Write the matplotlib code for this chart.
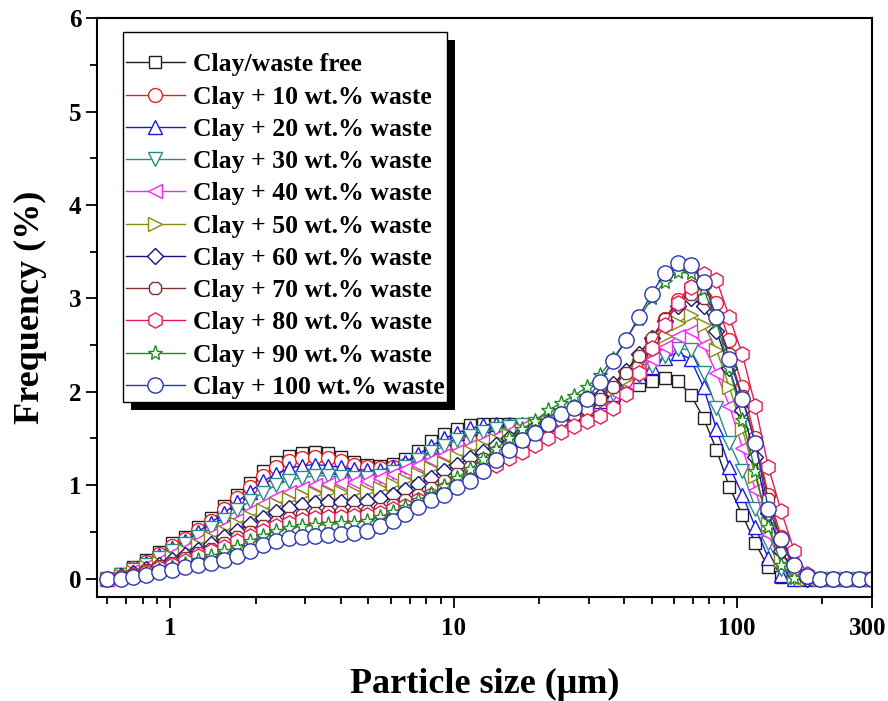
import matplotlib
matplotlib.use('Agg')
import matplotlib.pyplot as plt
from matplotlib.patches import Rectangle
from matplotlib.transforms import ScaledTranslation
from matplotlib.ticker import FixedLocator, LogLocator, NullFormatter

plt.rcParams['font.family'] = ['Liberation Serif', 'DejaVu Serif']
plt.rcParams['font.weight'] = 'bold'

# particle size bins (um)
sizes = [0.600, 0.667, 0.741, 0.823, 0.914, 1.016, 1.129, 1.254, 1.393, 1.548,
         1.720, 1.911, 2.123, 2.359, 2.621, 2.912, 3.236, 3.595, 3.994, 4.438,
         4.931, 5.479, 6.087, 6.763, 7.514, 8.349, 9.276, 10.31, 11.45, 12.72,
         14.14, 15.71, 17.45, 19.39, 21.54, 23.94, 26.60, 29.55, 32.83, 36.48,
         40.53, 45.03, 50.04, 55.59, 61.77, 68.63, 76.25, 84.72, 94.13, 104.6,
         116.2, 129.1, 143.4, 159.4, 177.1, 196.7, 218.6, 242.9, 269.8, 299.8]

free = [0, 0.05, 0.12, 0.2, 0.28, 0.38, 0.44, 0.55, 0.65, 0.78,
        0.9, 1.02, 1.15, 1.25, 1.31, 1.34, 1.35, 1.34, 1.3, 1.25,
        1.22, 1.21, 1.23, 1.28, 1.37, 1.47, 1.55, 1.6, 1.64, 1.66,
        1.66, 1.65, 1.64, 1.64, 1.65, 1.68, 1.72, 1.78, 1.85, 1.93,
        2.0, 2.07, 2.12, 2.15, 2.12, 1.97, 1.72, 1.38, 0.98, 0.68,
        0.38, 0.12, 0.02, 0, 0, 0, 0, 0, 0, 0]
w10 = [0, 0.04, 0.11, 0.18, 0.26, 0.35, 0.42, 0.52, 0.62, 0.74,
       0.86, 0.98, 1.1, 1.2, 1.26, 1.29, 1.3, 1.29, 1.26, 1.22,
       1.19, 1.18, 1.19, 1.22, 1.27, 1.33, 1.39, 1.44, 1.48, 1.52,
       1.55, 1.57, 1.59, 1.61, 1.63, 1.66, 1.7, 1.76, 1.85, 1.97,
       2.13, 2.33, 2.55, 2.78, 2.98, 3.12, 3.15, 2.95, 2.55, 2.05,
       1.5, 0.9, 0.45, 0.12, 0.01, 0, 0, 0, 0, 0]
w20 = [0, 0.04, 0.1, 0.17, 0.25, 0.33, 0.4, 0.5, 0.6, 0.7,
       0.82, 0.93, 1.04, 1.12, 1.18, 1.21, 1.22, 1.21, 1.19, 1.17,
       1.16, 1.16, 1.19, 1.25, 1.33, 1.42, 1.5, 1.56, 1.61, 1.64,
       1.66, 1.66, 1.66, 1.67, 1.69, 1.72, 1.77, 1.83, 1.9, 1.98,
       2.07, 2.17, 2.27, 2.36, 2.42, 2.35, 2.05, 1.6, 1.2, 0.9,
       0.55, 0.22, 0.04, 0, 0, 0, 0, 0, 0, 0]
w30 = [0, 0.04, 0.09, 0.15, 0.22, 0.3, 0.37, 0.45, 0.54, 0.63,
       0.73, 0.83, 0.92, 1.0, 1.05, 1.08, 1.1, 1.1, 1.09, 1.08,
       1.08, 1.1, 1.14, 1.2, 1.27, 1.35, 1.42, 1.48, 1.53, 1.57,
       1.6, 1.62, 1.64, 1.66, 1.68, 1.72, 1.77, 1.83, 1.9, 1.98,
       2.07, 2.17, 2.28, 2.38, 2.46, 2.45, 2.2, 1.83, 1.45, 1.15,
       0.75, 0.38, 0.1, 0.01, 0, 0, 0, 0, 0, 0]
w40 = [0, 0.03, 0.08, 0.13, 0.19, 0.26, 0.32, 0.4, 0.47, 0.55,
       0.63, 0.72, 0.8, 0.87, 0.93, 0.97, 1.0, 1.01, 1.02, 1.03,
       1.05, 1.08, 1.12, 1.17, 1.22, 1.27, 1.32, 1.37, 1.42, 1.47,
       1.52, 1.57, 1.62, 1.66, 1.7, 1.74, 1.79, 1.85, 1.92, 2.0,
       2.1, 2.22, 2.35, 2.48, 2.6, 2.65, 2.5, 2.2, 1.85, 1.4,
       0.95, 0.48, 0.14, 0.02, 0, 0, 0, 0, 0, 0]
w50 = [0, 0.03, 0.07, 0.12, 0.17, 0.23, 0.29, 0.36, 0.43, 0.5,
       0.58, 0.66, 0.73, 0.8, 0.85, 0.89, 0.92, 0.93, 0.93, 0.93,
       0.94, 0.97, 1.01, 1.06, 1.12, 1.18, 1.24, 1.3, 1.36, 1.42,
       1.48, 1.54, 1.59, 1.64, 1.68, 1.72, 1.77, 1.84, 1.92, 2.02,
       2.14, 2.28, 2.44, 2.6, 2.74, 2.82, 2.72, 2.45, 2.05, 1.6,
       1.1, 0.58, 0.2, 0.03, 0, 0, 0, 0, 0, 0]
w60 = [0, 0.03, 0.06, 0.1, 0.15, 0.2, 0.25, 0.31, 0.37, 0.44,
       0.51, 0.58, 0.65, 0.71, 0.76, 0.79, 0.81, 0.82, 0.82, 0.82,
       0.83, 0.86, 0.9, 0.95, 1.01, 1.08, 1.15, 1.22, 1.29, 1.36,
       1.43, 1.5, 1.56, 1.62, 1.67, 1.72, 1.78, 1.86, 1.96, 2.08,
       2.22, 2.4, 2.58, 2.76, 2.92, 3.0, 2.92, 2.65, 2.25, 1.8,
       1.3, 0.7, 0.3, 0.06, 0, 0, 0, 0, 0, 0]
w70 = [0, 0.02, 0.05, 0.09, 0.13, 0.17, 0.22, 0.27, 0.32, 0.38,
       0.44, 0.5, 0.56, 0.61, 0.65, 0.68, 0.7, 0.71, 0.71, 0.71,
       0.72, 0.75, 0.79, 0.84, 0.9, 0.97, 1.04, 1.12, 1.2, 1.28,
       1.36, 1.44, 1.52, 1.58, 1.64, 1.7, 1.75, 1.82, 1.92, 2.05,
       2.2, 2.38, 2.58, 2.78, 2.95, 3.05, 3.0, 2.78, 2.4, 1.95,
       1.45, 0.85, 0.4, 0.1, 0.01, 0, 0, 0, 0, 0]
w80 = [0, 0.02, 0.04, 0.07, 0.11, 0.15, 0.19, 0.24, 0.29, 0.34,
       0.4, 0.46, 0.51, 0.56, 0.6, 0.63, 0.65, 0.66, 0.66, 0.67,
       0.68, 0.7, 0.74, 0.78, 0.84, 0.9, 0.96, 1.02, 1.08, 1.15,
       1.22, 1.29, 1.36, 1.43, 1.5, 1.57, 1.63, 1.69, 1.74, 1.83,
       1.98, 2.2, 2.47, 2.72, 2.95, 3.12, 3.26, 3.2, 2.8, 2.4,
       1.85, 1.2, 0.72, 0.3, 0.05, 0, 0, 0, 0, 0]
w90 = [0, 0.01, 0.03, 0.06, 0.09, 0.12, 0.16, 0.2, 0.24, 0.29,
       0.34, 0.4, 0.46, 0.51, 0.54, 0.56, 0.57, 0.58, 0.59, 0.6,
       0.62, 0.66, 0.71, 0.77, 0.84, 0.91, 0.99, 1.08, 1.17, 1.28,
       1.39, 1.5, 1.6, 1.69, 1.8, 1.88, 1.96, 2.05, 2.18, 2.35,
       2.55, 2.78, 3.0, 3.18, 3.28, 3.27, 3.1, 2.75, 2.25, 1.7,
       1.15, 0.55, 0.15, 0.01, 0, 0, 0, 0, 0, 0]
w100 = [0, 0, 0.02, 0.04, 0.07, 0.09, 0.12, 0.15, 0.17, 0.2,
        0.24, 0.3, 0.36, 0.4, 0.43, 0.45, 0.46, 0.47, 0.48, 0.49,
        0.51, 0.56, 0.62, 0.69, 0.77, 0.84, 0.9, 0.98, 1.05, 1.15,
        1.27, 1.38, 1.48, 1.56, 1.66, 1.76, 1.83, 1.92, 2.1, 2.33,
        2.55, 2.8, 3.05, 3.27, 3.38, 3.36, 3.18, 2.8, 2.35, 1.92,
        1.45, 0.75, 0.42, 0.14, 0.03, 0, 0, 0, 0, 0]

labels = ['Clay/waste free', 'Clay + 10 wt.% waste', 'Clay + 20 wt.% waste',
          'Clay + 30 wt.% waste', 'Clay + 40 wt.% waste', 'Clay + 50 wt.% waste',
          'Clay + 60 wt.% waste', 'Clay + 70 wt.% waste', 'Clay + 80 wt.% waste',
          'Clay + 90 wt.% waste', 'Clay + 100 wt.% waste']
series = [free, w10, w20, w30, w40, w50, w60, w70, w80, w90, w100]
colors = ['#202020', '#e82020', '#1818e0', '#2a8a8a', '#ff20ff', '#8a8a10',
          '#141480', '#803030', '#e8185a', '#208a20', '#2a35b0']
markers = ['s', 'o', '^', 'v', '<', '>', 'D', '8', 'h', '*', 'o']
msizes = [9, 10, 10, 10, 10, 10, 8, 10, 11, 11, 11]

fig = plt.figure(figsize=(8.88, 7.01), dpi=100)
ax = fig.add_axes([0.109, 0.148, 0.873, 0.826])

for y, lab, c, m, ms in zip(series, labels, colors, markers, msizes):
    ax.plot(sizes, y, color=c, lw=1.0, marker=m, ms=ms, mfc='white',
            mec=c, mew=1.0, label=lab)

ax.set_xscale('log')
ax.set_xlim(0.55, 300)
ax.set_ylim(-0.2, 6)
ax.xaxis.set_major_locator(FixedLocator([1, 10, 100, 300]))
ax.set_xticklabels(['1', '10', '100', '300'])
ax.xaxis.set_minor_locator(LogLocator(base=10, subs=range(2, 10)))
ax.xaxis.set_minor_formatter(NullFormatter())
ax.set_yticks([0, 1, 2, 3, 4, 5, 6])
ax.set_yticks([0.5, 1.5, 2.5, 3.5, 4.5, 5.5], minor=True)

for s in ax.spines.values():
    s.set_linewidth(1.5)
ax.tick_params(which='major', direction='out', length=8, width=1.3,
               labelsize=18, top=False, right=False)
ax.tick_params(axis='y', which='major', pad=3)
ax.tick_params(axis='x', which='major', pad=6)
ax.tick_params(which='minor', direction='out', length=5, width=1.3,
               top=False, right=False)
for t in ax.get_xticklabels() + ax.get_yticklabels():
    t.set_fontweight('bold')
# keep the "300" label inside the figure edge
lab300 = ax.get_xticklabels()[-1]
lab300.set_transform(lab300.get_transform() + ScaledTranslation(-3 / 72, 0, fig.dpi_scale_trans))

ax.set_xlabel('Particle size (\u03bcm)', fontsize=26, fontweight='bold', labelpad=20)
ax.set_ylabel('Frequency (%)', fontsize=26, fontweight='bold', labelpad=16)

# a tiny blank title gives the extra space above the first entry
leg = ax.legend(loc='upper left', bbox_to_anchor=(0.0335, 0.976), borderaxespad=0,
                frameon=True, fancybox=False, edgecolor='black',
                handlelength=2.3, handletextpad=0.3, borderpad=0.12,
                labelspacing=0.36, prop={'weight': 'bold', 'size': 18.5},
                title=' ', title_fontsize=7)
leg.get_frame().set_linewidth(1.0)
leg.get_frame().set_alpha(1)

# black drop shadow behind the legend box
fig.canvas.draw()
bb = leg.get_window_extent()
inv = ax.transAxes.inverted()
(x0, y0), (x1, y1) = inv.transform([[bb.x0 + 8, bb.y0 - 8], [bb.x1 + 8, bb.y1 - 8]])
ax.add_patch(Rectangle((x0, y0), x1 - x0, y1 - y0, transform=ax.transAxes,
                       facecolor='black', edgecolor='none', zorder=4.9, clip_on=False))

fig.savefig('out.png', dpi=100)
